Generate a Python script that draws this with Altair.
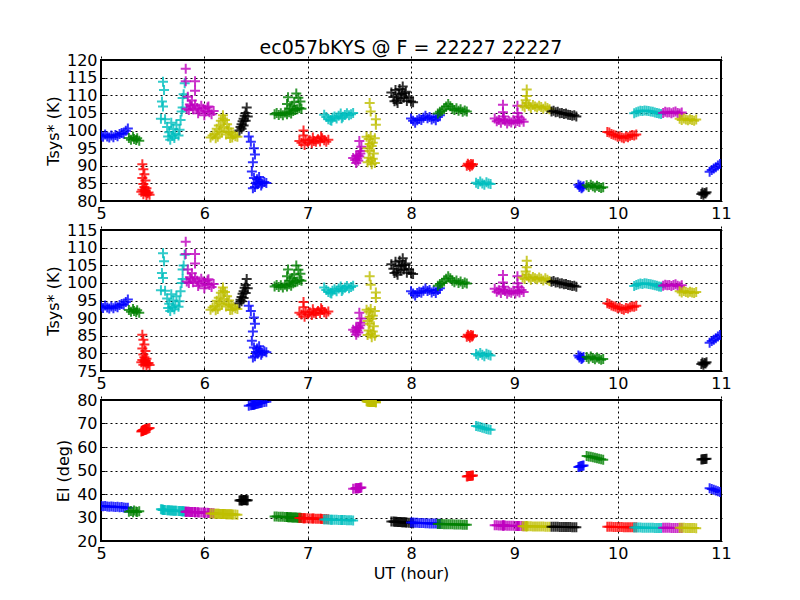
import altair as alt
import pandas as pd

# matplotlib classic colour cycle b, g, r, c, m, y, k
COLORS = ["#0000ff", "#008000", "#ff0000", "#00bfbf", "#bf00bf", "#bfbf00", "#000000"]

TITLE = "ec057bKYS @ F = 22227 22227"
X_TICKS = [5, 6, 7, 8, 9, 10, 11]
Y1_TICKS = [80, 85, 90, 95, 100, 105, 110, 115, 120]
Y2_TICKS = [75, 80, 85, 90, 95, 100, 105, 110, 115]
Y3_TICKS = [20, 30, 40, 50, 60, 70, 80]

# UT (hour) of every sample, one list per scan
ut = [
    [5.00, 5.02, 5.04, 5.06, 5.08, 5.10, 5.12, 5.14, 5.16, 5.18, 5.20, 5.22, 5.24, 5.26],
    [5.27, 5.29, 5.31, 5.32, 5.34, 5.35, 5.37],
    [5.40, 5.41, 5.42, 5.40, 5.43, 5.41, 5.42, 5.44, 5.40, 5.42, 5.43, 5.45, 5.41, 5.44, 5.46, 5.47, 5.43, 5.39],
    [5.60, 5.61, 5.59, 5.60, 5.58, 5.62, 5.64, 5.66, 5.67, 5.69, 5.70, 5.72, 5.68, 5.73, 5.75, 5.76, 5.77, 5.78, 5.79, 5.80, 5.81, 5.79, 5.65, 5.71],
    [5.82, 5.82, 5.91, 5.91, 5.84, 5.88, 5.83, 5.85, 5.87, 5.89, 5.91, 5.93, 5.95, 5.97, 5.99, 6.01, 6.03, 6.05, 6.07, 6.09, 5.86, 5.94, 6.00, 6.04],
    [6.06, 6.08, 6.10, 6.12, 6.14, 6.16, 6.18, 6.20, 6.22, 6.24, 6.26, 6.28, 6.30, 6.32, 6.13, 6.17, 6.19, 6.21, 6.25, 6.15, 6.23, 6.11, 6.27, 6.18],
    [6.34, 6.35, 6.36, 6.37, 6.38, 6.39, 6.40, 6.41, 6.42, 6.38, 6.36, 6.40],
    [6.43, 6.45, 6.48, 6.49, 6.47, 6.46, 6.48, 6.50, 6.52, 6.54, 6.56, 6.58, 6.60, 6.49, 6.51, 6.55, 6.47, 6.53],
    [6.68, 6.70, 6.72, 6.74, 6.76, 6.78, 6.80, 6.82, 6.84, 6.86, 6.88, 6.90, 6.92, 6.94, 6.80, 6.81, 6.87, 6.89, 6.91, 6.85, 6.83, 6.93],
    [6.92, 6.94, 6.96, 6.96, 6.98, 7.00, 7.02, 7.04, 7.06, 7.08, 7.10, 7.12, 7.14, 7.16, 7.18, 7.20, 6.97, 7.05, 7.13],
    [7.16, 7.18, 7.20, 7.22, 7.24, 7.26, 7.28, 7.30, 7.32, 7.34, 7.36, 7.38, 7.40, 7.42, 7.44, 7.23, 7.33],
    [7.44, 7.46, 7.47, 7.48, 7.49, 7.50, 7.51, 7.52, 7.50, 7.51, 7.47, 7.49],
    [7.60, 7.61, 7.66, 7.66, 7.57, 7.59, 7.61, 7.63, 7.65, 7.58, 7.60, 7.62, 7.64, 7.59, 7.61, 7.63, 7.65, 7.62, 7.60, 7.58],
    [7.81, 7.83, 7.85, 7.86, 7.88, 7.90, 7.92, 7.94, 7.96, 7.98, 8.00, 8.02, 7.84, 7.89, 7.93, 7.95, 7.87, 7.91],
    [8.00, 8.02, 8.04, 8.06, 8.08, 8.10, 8.12, 8.14, 8.16, 8.18, 8.20, 8.22, 8.24, 8.26, 8.28],
    [8.26, 8.28, 8.30, 8.32, 8.34, 8.36, 8.38, 8.40, 8.42, 8.44, 8.46, 8.48, 8.50, 8.52, 8.54],
    [8.54, 8.55, 8.56, 8.57, 8.58, 8.59, 8.60],
    [8.63, 8.65, 8.67, 8.69, 8.71, 8.73, 8.75, 8.77],
    [8.81, 8.83, 8.85, 8.87, 8.89, 8.91, 8.93, 8.95, 8.97, 8.99, 9.01, 9.03, 9.05, 9.07, 9.09, 8.89, 8.89, 9.03, 9.03, 8.90, 9.04],
    [9.08, 9.10, 9.12, 9.14, 9.16, 9.18, 9.20, 9.22, 9.24, 9.26, 9.28, 9.30, 9.32, 9.34, 9.12, 9.12, 9.11],
    [9.36, 9.38, 9.40, 9.42, 9.44, 9.46, 9.48, 9.50, 9.52, 9.54, 9.56, 9.58, 9.60],
    [9.62, 9.63, 9.64, 9.65, 9.66, 9.67],
    [9.70, 9.72, 9.74, 9.76, 9.78, 9.80, 9.82, 9.84, 9.86],
    [9.90, 9.92, 9.94, 9.96, 9.98, 10.00, 10.02, 10.04, 10.06, 10.08, 10.10, 10.12, 10.14, 10.16, 10.18],
    [10.16, 10.18, 10.20, 10.22, 10.24, 10.26, 10.28, 10.30, 10.32, 10.34, 10.36, 10.38, 10.40, 10.42],
    [10.44, 10.46, 10.48, 10.50, 10.52, 10.54, 10.56, 10.58, 10.60, 10.62],
    [10.60, 10.62, 10.64, 10.66, 10.68, 10.70, 10.72, 10.74, 10.76],
    [10.81, 10.82, 10.83, 10.84, 10.85, 10.86],
    [10.89, 10.91, 10.93, 10.95, 10.97, 10.99],
]

# Tsys* (K), top panel
tsys_top = [
    [98.6, 98.2, 98.9, 98.3, 98.0, 98.6, 98.1, 98.7, 98.4, 99.0, 99.3, 99.1, 99.9, 100.6],
    [97.9, 97.4, 98.2, 97.6, 97.3, 97.8, 97.1],
    [90.4, 89.0, 87.6, 86.5, 85.8, 84.8, 84.0, 83.6, 83.2, 82.8, 82.5, 82.2, 81.9, 81.7, 82.4, 81.8, 83.0, 82.6],
    [113.8, 111.5, 108.2, 106.8, 103.3, 103.2, 101.0, 99.5, 97.4, 98.5, 100.4, 99.0, 102.2, 101.6, 98.6, 100.2, 103.0, 105.4, 109.2, 110.3, 113.4, 106.5, 98.3, 97.9],
    [117.5, 114.0, 114.0, 111.3, 109.6, 108.5, 106.2, 105.8, 106.9, 106.0, 107.3, 106.4, 105.6, 107.0, 106.2, 105.4, 106.5, 105.2, 104.6, 105.5, 107.4, 104.9, 104.3, 106.8],
    [98.0, 98.6, 99.0, 100.5, 101.4, 102.8, 104.3, 103.0, 101.8, 100.6, 99.4, 98.8, 98.4, 98.2, 98.2, 99.5, 101.0, 98.9, 97.9, 99.8, 99.5, 97.8, 98.0, 103.4],
    [100.0, 101.0, 101.8, 102.6, 103.3, 104.2, 105.0, 106.5, 104.0, 101.4, 100.5, 102.8],
    [98.3, 96.8, 95.0, 93.2, 91.0, 88.4, 86.5, 85.2, 84.8, 85.6, 85.0, 85.4, 85.1, 84.0, 86.2, 84.4, 83.6, 86.8],
    [104.6, 105.0, 104.4, 104.9, 104.3, 105.1, 104.6, 105.2, 104.8, 105.5, 105.8, 106.0, 106.4, 106.2, 107.5, 109.4, 108.0, 110.5, 109.3, 107.0, 106.2, 108.2],
    [97.0, 96.5, 98.6, 100.0, 97.4, 96.6, 97.2, 96.4, 97.0, 96.8, 97.5, 96.9, 97.8, 97.2, 96.8, 97.4, 95.9, 98.0, 98.3],
    [104.5, 103.8, 103.2, 103.0, 103.6, 104.0, 103.4, 104.2, 104.8, 103.9, 104.4, 104.9, 104.3, 104.6, 105.0, 102.8, 103.5],
    [92.2, 91.6, 92.8, 92.0, 91.4, 92.6, 93.5, 95.4, 97.0, 94.2, 90.8, 93.0],
    [107.8, 105.4, 103.2, 101.6, 98.2, 97.6, 98.4, 96.5, 97.8, 95.0, 94.2, 95.6, 93.5, 92.3, 91.4, 92.0, 90.8, 90.4, 96.2, 91.0],
    [110.8, 109.5, 111.5, 108.5, 110.2, 109.0, 112.5, 110.6, 108.4, 109.4, 108.2, 108.0, 108.3, 111.8, 109.3, 111.0, 107.8, 110.4],
    [103.4, 102.8, 102.2, 102.9, 103.3, 103.0, 103.6, 104.2, 103.5, 103.8, 103.1, 103.5, 102.9, 103.8, 104.3],
    [104.8, 105.3, 105.6, 106.0, 106.8, 107.5, 106.9, 106.2, 105.8, 106.3, 105.6, 106.0, 105.3, 105.7, 105.4],
    [90.0, 90.6, 90.2, 89.8, 90.5, 90.1, 90.4],
    [85.2, 84.8, 85.5, 85.0, 84.6, 85.3, 85.0, 84.8],
    [103.4, 102.6, 103.0, 102.2, 103.2, 102.8, 102.0, 102.6, 102.3, 102.9, 102.1, 102.7, 102.4, 103.1, 102.5, 107.3, 105.2, 107.0, 105.0, 104.0, 103.9],
    [107.0, 106.6, 107.8, 107.0, 106.4, 107.2, 106.8, 106.5, 107.0, 106.7, 106.2, 106.8, 106.4, 106.0, 111.6, 109.8, 108.6],
    [105.4, 105.6, 105.2, 105.3, 104.9, 105.0, 104.7, 104.8, 104.5, 104.4, 104.2, 104.3, 104.0],
    [84.6, 84.0, 84.3, 83.6, 83.9, 84.2],
    [84.5, 84.0, 84.6, 84.2, 83.8, 84.3, 84.0, 83.7, 83.9],
    [99.6, 99.4, 99.0, 98.8, 98.6, 98.2, 98.4, 98.0, 97.8, 98.3, 98.1, 98.5, 98.7, 98.6, 98.9],
    [104.9, 105.2, 105.4, 105.6, 105.5, 105.7, 105.6, 105.5, 105.4, 105.3, 105.1, 105.0, 104.8, 104.7],
    [105.0, 105.3, 105.1, 105.2, 104.9, 105.2, 105.4, 105.0, 104.8, 105.1],
    [103.3, 103.0, 103.4, 103.1, 102.9, 103.2, 103.0, 102.8, 103.1],
    [82.0, 82.4, 81.8, 82.3, 82.1, 82.5],
    [88.3, 88.8, 89.2, 89.6, 90.1, 90.5],
]

# Tsys* (K), middle panel
tsys_mid = [
    [93.3, 92.9, 93.6, 93.0, 92.7, 93.3, 92.8, 93.4, 93.1, 93.7, 94.0, 93.8, 94.6, 95.3],
    [92.3, 91.8, 92.6, 92.0, 91.7, 92.2, 91.5],
    [85.3, 83.9, 82.5, 81.4, 80.7, 79.7, 78.9, 78.5, 78.1, 77.7, 77.4, 77.1, 76.8, 76.6, 77.3, 76.7, 77.9, 77.5],
    [108.4, 106.1, 102.8, 101.4, 97.9, 97.8, 95.6, 94.1, 92.0, 93.1, 95.0, 93.6, 96.8, 96.2, 93.2, 94.8, 97.6, 100.0, 103.8, 104.9, 108.0, 101.1, 92.9, 92.5],
    [111.7, 108.2, 108.2, 105.5, 103.8, 102.7, 100.4, 100.0, 101.1, 100.2, 101.5, 100.6, 99.8, 101.2, 100.4, 99.6, 100.7, 99.4, 98.8, 99.7, 101.6, 99.1, 98.5, 101.0],
    [92.4, 93.0, 93.4, 94.9, 95.8, 97.2, 98.7, 97.4, 96.2, 95.0, 93.8, 93.2, 92.8, 92.6, 92.6, 93.9, 95.4, 93.3, 92.3, 94.2, 93.9, 92.2, 92.4, 97.8],
    [94.2, 95.2, 96.0, 96.9, 97.6, 98.6, 99.4, 101.1, 98.5, 95.7, 94.8, 97.1],
    [93.5, 92.0, 90.2, 88.4, 86.2, 83.6, 81.7, 80.4, 80.0, 80.8, 80.2, 80.6, 80.3, 79.2, 81.4, 79.6, 78.8, 82.0],
    [99.0, 99.4, 98.8, 99.3, 98.7, 99.5, 99.0, 99.6, 99.2, 99.9, 100.2, 100.4, 100.8, 100.6, 101.9, 103.8, 102.4, 104.9, 103.7, 101.4, 100.6, 102.6],
    [91.5, 91.0, 93.1, 94.6, 91.9, 91.1, 91.7, 90.9, 91.5, 91.3, 92.0, 91.4, 92.3, 91.7, 91.3, 91.9, 90.4, 92.5, 92.8],
    [98.7, 98.0, 97.4, 97.2, 97.8, 98.2, 97.6, 98.4, 99.0, 98.1, 98.6, 99.1, 98.5, 98.8, 99.2, 97.0, 97.7],
    [86.7, 86.1, 87.3, 86.5, 85.9, 87.1, 88.0, 89.9, 91.5, 88.7, 85.3, 87.5],
    [101.9, 99.5, 97.3, 95.7, 92.4, 91.8, 92.6, 90.7, 92.0, 89.2, 88.4, 89.8, 87.7, 86.5, 85.6, 86.2, 85.0, 84.6, 90.4, 85.2],
    [105.3, 104.0, 106.0, 103.0, 104.7, 103.5, 107.0, 105.1, 102.9, 103.9, 102.7, 102.5, 102.8, 106.3, 103.8, 105.5, 102.3, 104.9],
    [97.6, 97.0, 96.4, 97.1, 97.5, 97.2, 97.8, 98.4, 97.7, 98.0, 97.3, 97.7, 97.1, 98.0, 98.5],
    [99.2, 99.7, 100.0, 100.4, 101.2, 101.9, 101.3, 100.6, 100.2, 100.7, 100.0, 100.4, 99.7, 100.1, 99.8],
    [84.7, 85.3, 84.9, 84.5, 85.2, 84.8, 85.1],
    [79.8, 79.4, 80.1, 79.6, 79.2, 79.9, 79.6, 79.4],
    [98.3, 97.5, 97.9, 97.1, 98.1, 97.7, 96.9, 97.5, 97.2, 97.8, 97.0, 97.6, 97.3, 98.0, 97.4, 102.2, 100.1, 101.9, 99.9, 98.9, 98.8],
    [101.5, 101.1, 102.3, 101.5, 100.9, 101.7, 101.3, 101.0, 101.5, 101.2, 100.7, 101.3, 100.9, 100.5, 106.3, 104.4, 103.2],
    [100.3, 100.5, 100.1, 100.2, 99.8, 99.9, 99.6, 99.7, 99.4, 99.3, 99.1, 99.2, 98.9],
    [79.4, 78.8, 79.1, 78.4, 78.7, 79.0],
    [79.0, 78.5, 79.1, 78.7, 78.3, 78.8, 78.5, 78.2, 78.4],
    [94.2, 94.0, 93.6, 93.4, 93.2, 92.8, 93.0, 92.6, 92.4, 92.9, 92.7, 93.1, 93.3, 93.2, 93.5],
    [99.1, 99.4, 99.6, 99.8, 99.7, 99.9, 99.8, 99.7, 99.6, 99.5, 99.3, 99.2, 99.0, 98.9],
    [99.2, 99.5, 99.3, 99.4, 99.1, 99.4, 99.6, 99.2, 99.0, 99.3],
    [97.6, 97.3, 97.7, 97.4, 97.2, 97.5, 97.3, 97.1, 97.4],
    [77.0, 77.4, 76.8, 77.3, 77.1, 77.5],
    [83.0, 83.5, 83.9, 84.3, 84.8, 85.2],
]

# Elevation (deg), bottom panel
elev = [
    [34.9, 34.8, 34.9, 34.7, 34.6, 34.7, 34.6, 34.5, 34.6, 34.4, 34.5, 34.3, 34.2, 34.1],
    [32.4, 32.8, 32.2, 33.0, 32.6, 32.3, 32.7],
    [66.9, 67.1, 67.3, 66.8, 67.4, 67.0, 67.2, 67.6, 66.9, 67.3, 67.5, 67.8, 67.1, 67.6, 67.9, 68.1, 67.4, 66.6],
    [33.3, 33.2, 33.4, 33.3, 33.5, 33.2, 33.1, 33.1, 33.0, 33.0, 32.9, 32.9, 33.0, 32.9, 32.8, 32.8, 32.8, 32.7, 32.7, 32.7, 32.6, 32.7, 33.1, 32.9],
    [32.4, 32.5, 32.2, 32.3, 32.4, 32.3, 32.5, 32.4, 32.3, 32.3, 32.2, 32.2, 32.1, 32.1, 32.1, 32.0, 32.0, 31.9, 31.9, 31.8, 32.3, 32.2, 32.0, 31.9],
    [31.7, 31.7, 31.6, 31.6, 31.6, 31.5, 31.5, 31.5, 31.4, 31.4, 31.4, 31.3, 31.3, 31.2, 31.6, 31.5, 31.5, 31.4, 31.4, 31.5, 31.4, 31.6, 31.3, 31.5],
    [37.2, 37.3, 37.4, 37.2, 37.5, 37.3, 37.4, 37.2, 37.3, 37.5, 37.1, 37.4],
    [77.6, 77.8, 78.1, 78.2, 78.0, 77.9, 78.1, 78.3, 78.5, 78.7, 78.9, 79.1, 79.3, 78.2, 78.4, 78.8, 78.0, 78.6],
    [30.4, 30.4, 30.3, 30.3, 30.3, 30.2, 30.2, 30.1, 30.1, 30.0, 30.0, 29.9, 29.9, 29.8, 30.2, 30.1, 30.0, 30.0, 29.9, 30.0, 30.1, 29.9],
    [29.8, 29.8, 29.7, 29.7, 29.7, 29.7, 29.6, 29.6, 29.6, 29.5, 29.5, 29.5, 29.4, 29.4, 29.4, 29.3, 29.7, 29.6, 29.5],
    [29.1, 29.1, 29.1, 29.0, 29.0, 29.0, 29.0, 28.9, 28.9, 28.9, 28.9, 28.8, 28.8, 28.8, 28.7, 29.0, 28.9],
    [42.2, 42.3, 42.4, 42.5, 42.5, 42.6, 42.7, 42.8, 42.6, 42.7, 42.4, 42.5],
    [79.3, 79.3, 79.0, 79.0, 79.5, 79.4, 79.3, 79.2, 79.1, 79.4, 79.3, 79.2, 79.1, 79.4, 79.3, 79.2, 79.1, 79.2, 79.3, 79.4],
    [28.3, 28.3, 28.2, 28.2, 28.1, 28.1, 28.0, 28.0, 27.9, 27.8, 27.7, 27.6, 28.2, 28.1, 28.0, 27.9, 28.1, 28.0],
    [27.9, 27.9, 27.8, 27.8, 27.7, 27.7, 27.7, 27.6, 27.6, 27.5, 27.5, 27.4, 27.4, 27.3, 27.3],
    [27.2, 27.2, 27.2, 27.1, 27.1, 27.1, 27.1, 27.1, 27.0, 27.0, 27.0, 27.0, 26.9, 26.9, 26.9],
    [47.5, 47.6, 47.7, 47.7, 47.8, 47.8, 47.9],
    [68.9, 68.7, 68.5, 68.2, 68.0, 67.7, 67.5, 67.3],
    [26.7, 26.7, 26.6, 26.6, 26.6, 26.6, 26.5, 26.5, 26.5, 26.5, 26.4, 26.4, 26.4, 26.4, 26.3, 26.6, 26.6, 26.4, 26.4, 26.6, 26.4],
    [26.3, 26.3, 26.3, 26.3, 26.3, 26.2, 26.2, 26.2, 26.2, 26.2, 26.2, 26.1, 26.1, 26.1, 26.3, 26.3, 26.3],
    [26.1, 26.1, 26.1, 26.1, 26.0, 26.0, 26.0, 26.0, 26.0, 26.0, 25.9, 25.9, 25.9],
    [51.5, 51.6, 51.8, 51.9, 52.0, 52.1],
    [56.2, 56.0, 55.8, 55.6, 55.4, 55.2, 55.0, 54.8, 54.6],
    [26.1, 26.1, 26.1, 26.0, 26.0, 26.0, 26.0, 26.0, 25.9, 25.9, 25.9, 25.9, 25.9, 25.8, 25.8],
    [25.7, 25.7, 25.7, 25.7, 25.6, 25.6, 25.6, 25.6, 25.6, 25.6, 25.5, 25.5, 25.5, 25.5],
    [25.6, 25.6, 25.6, 25.6, 25.5, 25.5, 25.5, 25.5, 25.5, 25.5],
    [25.6, 25.6, 25.6, 25.5, 25.5, 25.5, 25.5, 25.5, 25.4],
    [54.7, 54.8, 54.8, 54.9, 54.9, 55.0],
    [42.4, 42.1, 41.8, 41.5, 41.2, 40.9],
]

rows = []
for i, (ts, a, b, e) in enumerate(zip(ut, tsys_top, tsys_mid, elev)):
    for t, v1, v2, v3 in zip(ts, a, b, e):
        rows.append({"scan": i, "ut": t, "tsys1": v1, "tsys2": v2, "el": v3,
                     "color": COLORS[i % len(COLORS)]})
df = pd.DataFrame(rows)

PLUS = "M-1,0L1,0M0,-1L0,1"
FONT = "DejaVu Sans"


def panel(field, ytitle, domain, yticks, xtitle=None, title=None):
    x = alt.X("ut:Q",
              scale=alt.Scale(domain=[5, 11], nice=False, zero=False),
              axis=alt.Axis(values=X_TICKS, format="d", title=xtitle))
    y = alt.Y(field + ":Q",
              scale=alt.Scale(domain=domain, nice=False, zero=False),
              axis=alt.Axis(values=yticks, format="d", title=ytitle))
    ch = alt.Chart(df).mark_point(
        shape=PLUS, filled=False, size=100, strokeWidth=2, opacity=0.8, clip=True
    ).encode(x=x, y=y, color=alt.Color("color:N", scale=None))
    props = {"width": 620, "height": 141}
    if title is not None:
        props["title"] = alt.TitleParams(title, fontSize=19, font=FONT, fontWeight="normal",
                                         color="black", anchor="middle", frame="group",
                                         offset=-6)
    return ch.properties(**props)


p1 = panel("tsys1", "Tsys* (K)", [80, 120], Y1_TICKS, title=TITLE)
p2 = panel("tsys2", "Tsys* (K)", [75, 115], Y2_TICKS)
p3 = panel("el", "El (deg)", [20, 80], Y3_TICKS, xtitle="UT (hour)")

chart = alt.vconcat(p1, p2, p3, spacing=29, bounds="flush").properties(
    padding={"left": 36, "top": 30, "right": 10, "bottom": 5}
).configure_view(
    stroke="black", strokeWidth=2
).configure_axis(
    labelFont=FONT, labelFontSize=16, labelColor="black", labelFlush=False,
    titleFont=FONT, titleFontSize=16, titleFontWeight="normal", titleColor="black",
    domain=False, ticks=True, tickSize=4, tickColor="black", tickWidth=1, offset=-4,
    labelPadding=4, grid=True, gridColor="black", gridDash=[2, 3], gridWidth=1,
    gridOpacity=1
).configure_axisY(titlePadding=5).configure_axisX(titlePadding=4)

chart.save("out.html", embed_options={"renderer": "svg", "actions": False})
